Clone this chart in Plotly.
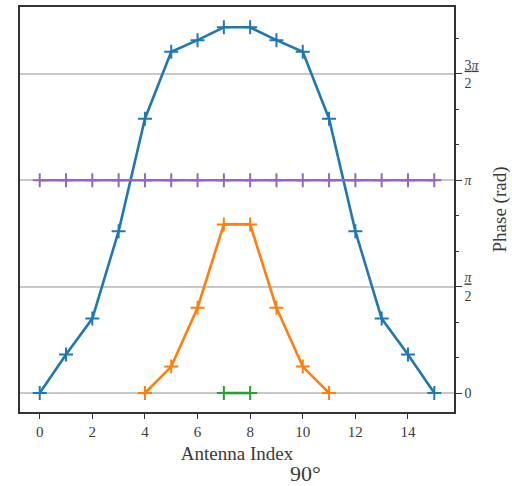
import numpy as np
import plotly.graph_objects as go

# Data
idx_blue = list(range(16))
phase_blue = [0.0, 0.57, 1.10, 2.39, 4.05, 5.04, 5.21, 5.40, 5.40, 5.21, 5.04, 4.05, 2.39, 1.10, 0.57, 0.0]
idx_orange = list(range(4, 12))
phase_orange = [0.0, 0.39, 1.26, 2.49, 2.49, 1.26, 0.39, 0.0]
idx_green = [7, 8]
phase_green = [0.0, 0.0]
idx_purple = list(range(16))
phase_purple = [np.pi] * 16

ytick_vals = [0, np.pi / 2, np.pi, 3 * np.pi / 2]
ytick_text = ["0", "<u><i>π</i></u><br>2", "<i>π</i>", "<u>3<i>π</i></u><br>2"]
xtick_vals = [0, 2, 4, 6, 8, 10, 12, 14]

series = [
    (idx_blue, phase_blue, "#1f77b4"),
    (idx_orange, phase_orange, "#ff7f0e"),
    (idx_green, phase_green, "#2ca02c"),
    (idx_purple, phase_purple, "#9467bd"),
]

FONT = "Liberation Serif, DejaVu Serif, serif"
TXT = "#3a3a3a"

fig = go.Figure()
for xs, ys, c in series:
    fig.add_trace(go.Scatter(
        x=xs, y=ys, mode="lines+markers",
        line=dict(color=c, width=2.6),
        marker=dict(symbol="cross-thin", size=10, line=dict(color=c, width=2)),
        showlegend=False,
    ))

fig.update_layout(
    width=512, height=486,
    margin=dict(l=20, r=57, t=5, b=74),
    paper_bgcolor="white", plot_bgcolor="white",
    font=dict(family=FONT, color=TXT, size=14),
    xaxis=dict(
        range=[-0.75, 15.75], tickvals=xtick_vals,
        showgrid=False, zeroline=False,
        showline=True, linecolor="#333", linewidth=1.5, mirror=True,
        ticks="outside", ticklen=5, tickcolor="#333", tickwidth=1.2,
        tickfont=dict(family=FONT, size=15, color=TXT),
        title=dict(text="Antenna Index", font=dict(family=FONT, size=19, color=TXT), standoff=8),
    ),
    yaxis=dict(
        range=[-0.28, 5.70], side="right",
        tickvals=ytick_vals, ticktext=ytick_text,
        showgrid=True, gridcolor="#c8c8c8", gridwidth=1.5, zeroline=False,
        showline=True, linecolor="#333", linewidth=1.5, mirror=True,
        ticks="outside", ticklen=6, tickcolor="#333", tickwidth=1.2,
        tickfont=dict(family=FONT, size=14, color=TXT),
        minor=dict(tickvals=[k * np.pi / 6 for k in range(11)], ticks="outside",
                   ticklen=3.5, tickcolor="#333", tickwidth=1.2, showgrid=False),
        title=dict(text="Phase (rad)", font=dict(family=FONT, size=19, color=TXT), standoff=14),
    ),
    annotations=[dict(
        text="90°", xref="paper", yref="paper", x=0.657, y=-0.152,
        xanchor="center", yanchor="middle", showarrow=False,
        font=dict(family=FONT, size=22, color=TXT),
    )],
)

fig.write_html("out.html")
